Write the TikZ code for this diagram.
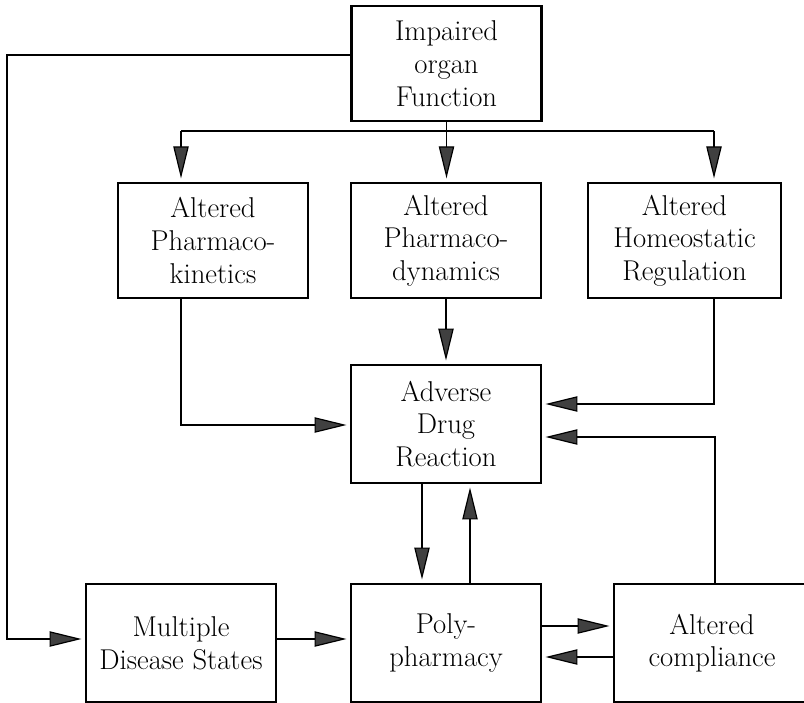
\documentclass[tikz,border=0pt]{standalone}
\usetikzlibrary{arrows.meta}
\begin{document}
\begin{tikzpicture}[x=0.75pt,y=-0.75pt,
  box node/.style={draw,line width=1.7pt,minimum width=142.5pt,minimum height=86.5pt,
    align=center,font=\fontsize{21.5}{24.5}\selectfont},
  wire/.style={line width=0.9pt},
  arr/.style={wire,-{Triangle[length=24pt,width=11.5pt,fill=black!75]},shorten >=2.5pt}]
  \useasboundingbox (0,0) rectangle (804,703);

  \node[box node] (imp) at (446.5,63.5) {Impaired\\organ\\Function};
  \node[box node] (pk) at (213,240.5) {Altered\\Pharmaco-\\kinetics};
  \node[box node] (pd) at (446,240.5) {Altered\\Pharmaco-\\dynamics};
  \node[box node,minimum width=144.75pt] (hr) at (684.5,240.5) {Altered\\Homeostatic\\Regulation};
  \node[box node,minimum height=88.5pt] (adr) at (446,424) {Adverse\\Drug\\Reaction};
  \node[box node,minimum height=88.5pt] (mds) at (181,643) {Multiple\\Disease States};
  \node[box node,minimum height=88.5pt] (poly) at (446,643) {Poly-\\pharmacy};
  \node[box node,minimum height=88.5pt,minimum width=147pt] (ac) at (712,643) {Altered\\compliance};

  \coordinate (loopTop) at (7,55);
  \coordinate (loopBot) at (7,639);
  \coordinate (busL) at (181,131);
  \coordinate (busR) at (714,131);
  \coordinate (pkTurn) at (181,425);
  \coordinate (hrTurn) at (714,404);
  \coordinate (acTurn) at (715,437);
  \coordinate (downX) at (422,530);
  \coordinate (upX) at (470,530);
  \coordinate (fwdY) at (578,626);
  \coordinate (backY) at (578,657);

  \draw[arr] (loopTop -| imp.west) -- (loopTop) -- (loopBot) -- (loopBot -| mds.west);
  \draw[wire] (busL) -- (busR);
  \path (busL) [arr] edge (busL |- pk.north);
  \path (imp.south) [arr] edge (imp.south |- pd.north);
  \path (busR) [arr] edge (busR |- hr.north);

  \draw[arr] (busL |- pk.south) -- (pkTurn) -- (pkTurn -| adr.west);
  \path (pd) [arr] edge (adr);
  \draw[arr] (hr.south -| hrTurn) -- (hrTurn) -- (hrTurn -| adr.east);
  \draw[arr] (ac.north -| acTurn) -- (acTurn) -- (acTurn -| adr.east);

  \path (adr.south -| downX) [arr] edge (poly.north -| downX);
  \path (poly.north -| upX) [arr] edge (adr.south -| upX);
  \path (loopBot -| mds.east) [arr] edge (loopBot -| poly.west);
  \path (poly.east |- fwdY) [arr] edge (ac.west |- fwdY);
  \path (ac.west |- backY) [arr] edge (poly.east |- backY);
\end{tikzpicture}
\end{document}
